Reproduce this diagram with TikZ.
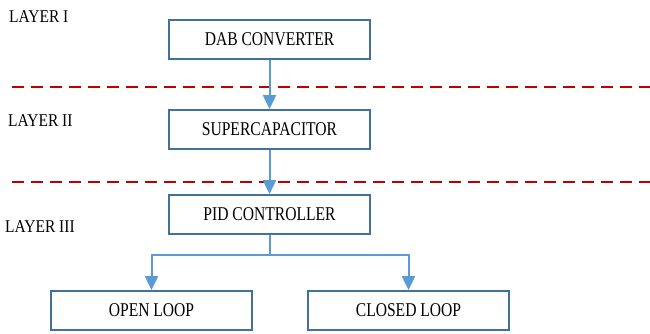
\documentclass[tikz,border=0pt]{standalone}
\usepackage{fontspec}
\setmainfont{Liberation Serif}
\newfontfamily\boxfont{Liberation Serif}[FakeStretch=0.80]
\newfontfamily\lblfont{Liberation Serif}[FakeStretch=0.86]
\usetikzlibrary{arrows.meta}
\definecolor{boxline}{HTML}{41719C}
\definecolor{arrline}{HTML}{5B9BD5}
\definecolor{sepred}{HTML}{C00000}
\tikzset{
  blockbox/.style={draw=boxline, line width=1.8pt, minimum width=201pt, minimum height=39pt, inner sep=0pt, font=\boxfont\fontsize{19.5}{21}\selectfont},
  layerlbl/.style={anchor=west, inner sep=0pt, font=\lblfont\fontsize{18}{20}\selectfont},
  wire/.style={draw=arrline, line width=2pt},
  arr/.style={wire, -{Triangle[width=13pt,length=14pt,fill=arrline]}},
  sepline/.style={draw=sepred, line width=2.2pt, dash pattern=on 12pt off 7pt}
}
\begin{document}
\begin{tikzpicture}[x=1pt,y=-1pt]
\useasboundingbox (0,0) rectangle (650,333);
\draw[sepline] (12,87) -- (650,87);
\draw[sepline] (12,182) -- (650,182);
\node[blockbox] (dab) at (269.5,39.5) {DAB CONVERTER};
\node[blockbox] (sup) at (269.5,129.5) {SUPERCAPACITOR};
\node[blockbox] (pid) at (269.5,214.5) {PID CONTROLLER};
\node[blockbox] (open) at (151.5,310.5) {OPEN LOOP};
\node[blockbox] (closed) at (408.5,310.5) {CLOSED LOOP};
\node[layerlbl] (l1) at (9,17) {LAYER I};
\node[layerlbl] (l2) at (8,121) {LAYER II};
\node[layerlbl] (l3) at (5,227) {LAYER III};
\coordinate (split) at (269.5,255);
\draw[arr] (dab.south) -- (sup.north);
\draw[arr] (sup.south) -- (pid.north);
\draw[wire] (pid.south) -- (split);
\draw[arr] (split) -| (open.north);
\draw[arr] (split) -| (closed.north);
\end{tikzpicture}
\end{document}
